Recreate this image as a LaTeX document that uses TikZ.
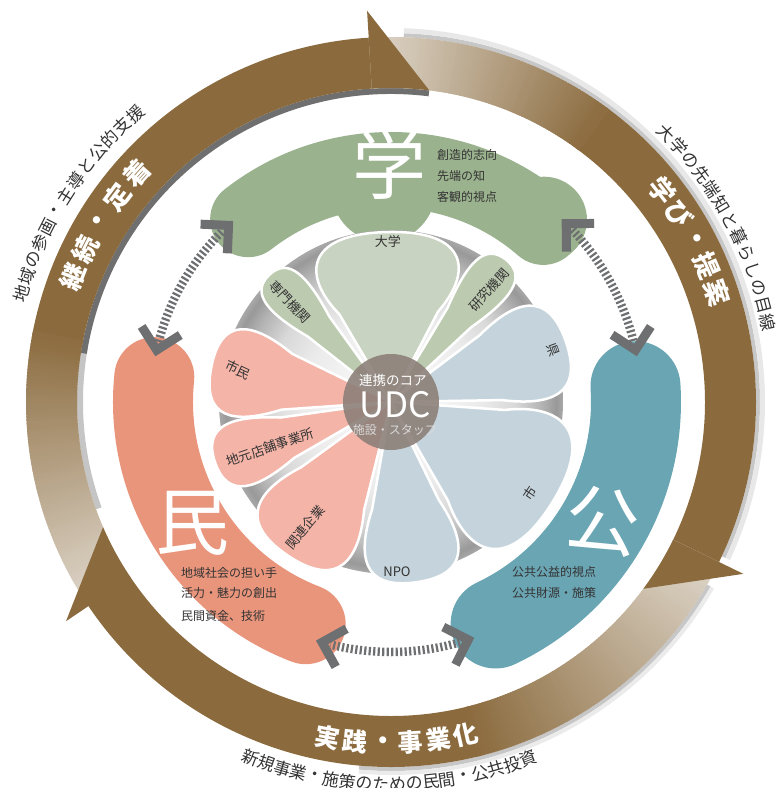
\documentclass[tikz,border=0pt]{standalone}
\usepackage{fontspec}
\setmainfont{Noto Sans CJK JP}
\usetikzlibrary{calc}
\definecolor{brn}{HTML}{8B6B3E}
\definecolor{fadec}{HTML}{DED6CA}
\definecolor{gakuB}{HTML}{9BB28E}
\definecolor{minB}{HTML}{E8957C}
\definecolor{kouB}{HTML}{6AA5B3}
\definecolor{sageP}{HTML}{C9D3C1}
\definecolor{sageQ}{HTML}{BCCAB0}
\definecolor{pinkP}{HTML}{F4B4A8}
\definecolor{blueP}{HTML}{C5D4DC}
\definecolor{udcc}{HTML}{8D8079}
\definecolor{conn}{HTML}{6E6F71}
\definecolor{txt}{HTML}{333333}
\definecolor{shadowc}{HTML}{6F6F6F}
\pgfdeclareradialshading{discshade}{\pgfpoint{0bp}{0bp}}{color(0bp)=(white); color(13bp)=(white!92!black); color(18bp)=(white!85!black); color(22bp)=(white!70!black); color(24bp)=(white!60!black); color(25bp)=(white!66!black); color(50bp)=(white!66!black)}

\newcommand{\annulus}[5]{%
  \fill[#1] (#2:#4pt) arc[start angle=#2, end angle=#3, radius=#4pt] -- (#3:#5pt) arc[start angle=#3, end angle=#2, radius=#5pt] -- cycle;}
% start angle, end angle, fade span (multiple of 0.5)
\newcommand{\ringbody}[3]{%
  \pgfmathsetmacro{\solidA}{#1-#3}%
  \annulus{brn}{\solidA+0.3}{#2-0.4}{314}{365}%
  \pgfmathtruncatemacro{\nseg}{#3*2-1}%
  \foreach \k in {0,...,\nseg}{%
    \pgfmathsetmacro{\angA}{#1-\k*0.5}%
    \pgfmathsetmacro{\angB}{#1-\k*0.5-0.8}%
    \pgfmathtruncatemacro{\pct}{min(100,100*\k/(\nseg+1))}%
    \annulus{brn!\pct!fadec}{\angA}{\angB}{314}{365}%
  }}
\newcommand{\ringhead}[1]{%
  \pgfmathsetmacro{\hb}{#1+10.5}%
  \fill[brn] (\hb:314pt) -- (\hb:392pt) -- (#1:314pt) arc[start angle=#1, end angle=\hb, radius=314pt] -- cycle;}
\newcommand{\cwtext}[6]{%
  \foreach \tch [count=\i from 0] in {#1}{%
    \pgfmathsetmacro{\ang}{#3-\i*#4}%
    \node[#5, rotate=\ang-90] (#6\i) at (\ang:#2pt) {\tch};}}
\newcommand{\ccwtext}[6]{%
  \foreach \tch [count=\i from 0] in {#1}{%
    \pgfmathsetmacro{\ang}{#3+\i*#4}%
    \node[#5, rotate=\ang+90] (#6\i) at (\ang:#2pt) {\tch};}}
\newcommand{\petal}[5]{%
  \begin{scope}[rotate=#1]
  \filldraw[fill=#5, draw=white, line width=2.5pt, line join=round]
    (0,0) -- ({0.6*#3*cos(#2)},{-0.6*#3*sin(#2)})
    .. controls ({0.85*#3*cos(#2)},{-0.85*#3*sin(#2)*#4}) and ({#3},{-0.85*#3*sin(#2)*#4}) .. ({#3},0)
    .. controls ({#3},{0.85*#3*sin(#2)*#4}) and ({0.85*#3*cos(#2)},{0.85*#3*sin(#2)*#4}) .. ({0.6*#3*cos(#2)},{0.6*#3*sin(#2)}) -- cycle;
  \end{scope}}
\newcommand{\chevron}[3]{% coordinate name, its polar pos, direction
  \draw[chev] ([shift={(#2)}]#3+135:28pt) -- (#1) -- ([shift={(#2)}]#3-135:28pt);}

\begin{document}
\begin{tikzpicture}[x=1pt,y=1pt,
  hatch/.style={draw=conn, line width=8.5pt, dash pattern=on 2.2pt off 2.3pt},
  chev/.style={draw=conn, line width=9pt, line join=miter, line cap=butt},
  plabel/.style={font=\fontsize{13}{13}\selectfont, text=txt, inner sep=0pt},
  btext/.style={font=\fontsize{12}{12}\selectfont, text=txt, inner sep=0pt, anchor=west},
  bigc/.style={font=\fontsize{74}{74}\selectfont, text=white, inner sep=0pt},
  bandtxt/.style={font=\fontsize{26}{26}\selectfont\bfseries, text=white, inner sep=0pt},
  bandtxtb/.style={font=\fontsize{25}{25}\selectfont\bfseries, text=white, inner sep=0pt},
  outtxt/.style={font=\fontsize{17}{17}\selectfont, text=txt, inner sep=0pt}]
\useasboundingbox (-391,-386) rectangle (388,402);
\clip (-391,-386) rectangle (388,402);

% ---- ring shadows
\annulus{shadowc!40}{200}{170}{308}{314}
\annulus{shadowc}{171}{83}{308}{314}
\annulus{black!22}{88}{-25}{365}{369}
\annulus{black!9}{88}{-25}{369}{374}
\annulus{black!22}{-30}{-95}{365}{369}
\annulus{black!8}{-30}{-95}{369}{373}
% ---- ring arrows
\ringbody{214}{93.5}{45}
\ringbody{93.5}{-26}{40}
\ringbody{-26}{-146}{50}
\ringhead{83}
\ringhead{-36.5}
\ringhead{-156.5}

% ---- ring texts
\cwtext{継,続,・,定,着}{342}{158.6}{5.15}{bandtxt}{ta}
\cwtext{学,び,・,提,案}{344}{37.9}{4.85}{bandtxt}{tb}
\ccwtext{実,践,・,事,業,化}{341}{-100.7}{4.68}{bandtxtb}{tc}
\cwtext{地,域,の,参,画,・,主,導,と,公,的,支,援}{385}{163.7}{2.68}{outtxt}{oa}
\cwtext{大,学,の,先,端,知,と,暮,ら,し,の,目,線}{385}{44.3}{2.7}{outtxt}{ob}
\ccwtext{新,規,事,業,・,施,策,の,た,め,の,民,間,・,公,共,投,資}{382}{-111.5}{2.5}{outtxt}{oc}

% ---- outer blobs
\draw[gakuB, line width=76pt, line cap=round] (128:232pt) arc[start angle=128, end angle=49, radius=232pt];
\fill[gakuB] (50:238pt) circle (43pt);
\fill[gakuB] (92:212pt) circle (52pt);
\draw[minB, line width=80pt, line cap=round] (174:238pt) arc[start angle=174, end angle=249, radius=238pt];
\draw[kouB, line width=90pt, line cap=round] (3.7:245pt) arc[start angle=3.7, end angle=-64.7, radius=245pt];

% ---- connectors
\coordinate (c1a) at (167.5:240pt);
\coordinate (c1b) at (132.6:240pt);
\coordinate (c2a) at (45.5:250pt);
\coordinate (c2b) at (12:250pt);
\coordinate (c3a) at (-72:250pt);
\coordinate (c3b) at (-106:250pt);
\draw[hatch] (165.5:240pt) arc[start angle=165.5, end angle=134.6, radius=240pt];
\draw[hatch] (43.5:250pt) arc[start angle=43.5, end angle=14, radius=250pt];
\draw[hatch] (-74:250pt) arc[start angle=-74, end angle=-104, radius=250pt];
\chevron{c1a}{167.5:240pt}{257.5}
\chevron{c1b}{132.6:240pt}{42.6}
\chevron{c2a}{45.5:250pt}{135.5}
\chevron{c2b}{12:250pt}{-78}
\chevron{c3a}{-72:250pt}{18}
\chevron{c3b}{-106:250pt}{164}

% ---- blob texts
\node[bigc] (gaku) at (-1,237) {学};
\node[bigc] (min) at (-198,-121) {民};
\node[bigc, rotate=-8] (kou) at (212,-119) {公};
\node[btext] (g1) at (46,247) {創造的志向};
\node[btext] (g2) at (46,226) {先端の知};
\node[btext] (g3) at (46,205) {客観的視点};
\node[btext] (m1) at (-210,-171) {地域社会の担い手};
\node[btext] (m2) at (-210,-191) {活力・魅力の創出};
\node[btext] (m3) at (-210,-214) {民間資金、技術};
\node[btext] (k1) at (121,-170) {公共公益的視点};
\node[btext] (k2) at (121,-191) {公共財源・施策};

% ---- flower
\shade[shading=discshade] (0,0) circle (172pt);
\petal{91.5}{29}{170}{1.2}{sageP}
\petal{51}{8}{183}{1.3}{sageQ}
\petal{133.8}{8}{176}{1.3}{sageQ}
\petal{19}{18}{185}{1.15}{blueP}
\petal{-32}{28}{190}{1.15}{blueP}
\petal{-82}{18}{182}{1.15}{blueP}
\petal{-124}{20}{185}{1.15}{pinkP}
\petal{-161}{11}{186}{1.3}{pinkP}
\petal{169}{15}{183}{1.3}{pinkP}

\node[circle, fill=udcc, fill opacity=0.9, minimum size=96pt, inner sep=0pt] (udc) at (0,0) {};
\node[text=white, inner sep=0pt, font=\fontsize{13.5}{13.5}\selectfont] (udc1) at (2,22) {連携のコア};
\node[text=white, inner sep=0pt, font=\fontsize{35}{35}\selectfont] (udc2) at (4,-3) {UDC};
\node[text=white!85!black, inner sep=0pt, font=\fontsize{12}{12}\selectfont] (udc3) at (4,-28) {施設・スタッフ};

\node[plabel] (p1) at (-3,160) {大学};
\node[plabel, rotate=-47] (p2) at (-101,100) {専門機関};
\node[plabel, rotate=48] (p3) at (98,112) {研究機関};
\node[plabel, rotate=-70] (p4) at (162,52) {県};
\node[plabel, rotate=56] (p5) at (139,-91) {市};
\node[plabel] (p6) at (6,-170) {NPO};
\node[plabel, rotate=50] (p7) at (-86,-125) {関連企業};
\node[plabel, rotate=19] (p8) at (-121,-45) {地元店舗事業所};
\node[plabel, rotate=-25] (p9) at (-153,32) {市民};
\end{tikzpicture}
\end{document}
